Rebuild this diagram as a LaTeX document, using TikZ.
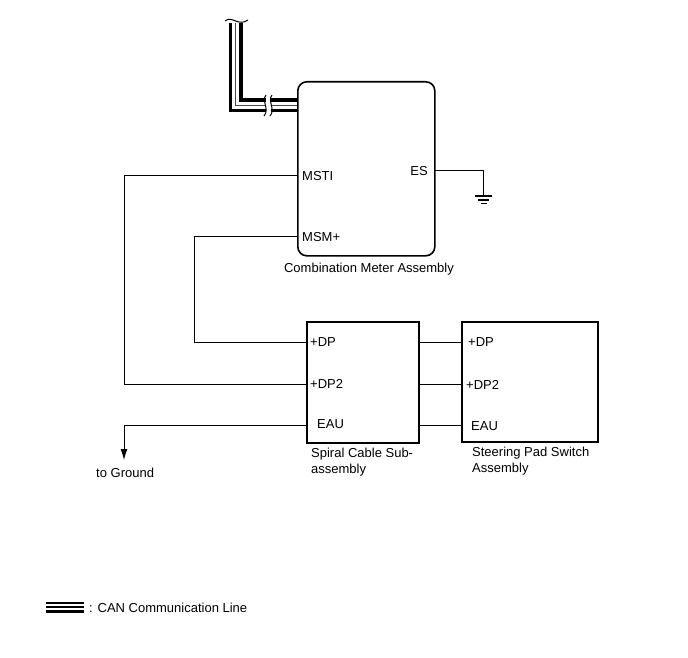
\documentclass[tikz,border=0pt]{standalone}
\usepackage{fontspec}
\setmainfont{Liberation Sans}
\usetikzlibrary{calc,arrows.meta}

\tikzset{
    unit/.style={draw, fill=white, line width=1.6pt, inner sep=0pt, anchor=north west},
    pin/.style={inner sep=0pt, font=\fontsize{13}{15}\selectfont},
    lbl/.style={inner sep=0pt, align=left, font=\fontsize{13}{16}\selectfont},
    wire/.style={line width=1pt},
}

\begin{document}
\begin{tikzpicture}[x=1pt,y=-1pt]
    \useasboundingbox (0,0) rectangle (688,658);

    % CAN line
    \coordinate (canend) at (235.5,23);
    \coordinate (cancorner) at (235.5,105.5);
    \coordinate (canin) at (300,105.5);
    \draw[line width=14pt] (canend) -- (cancorner) -- (canin);
    \draw[line width=7pt, white] ($(canend)+(0,-1)$) -- (cancorner) -- ($(canin)+(1,0)$);
    \draw[line width=1.3pt, black!70] (canend) -- (cancorner) -- (canin);
    \fill[white] (226,13) rectangle (248,22);
    \draw[line width=1pt] (225,21) .. controls (232,15) and (238,27) .. (248,20);
    \fill[white] (266,96) rectangle (271,115);
    \draw[line width=1pt] (266,95) .. controls (261,101) and (270,109) .. (264,116);
    \draw[line width=1pt] (272,95) .. controls (267,101) and (276,109) .. (270,116);

    % units
    \node[unit, rounded corners=9pt, minimum width=137pt, minimum height=174pt] (meter) at (297,81) {};
    \node[unit, minimum width=112pt, minimum height=121pt] (spiral) at (306,321) {};
    \node[unit, minimum width=136pt, minimum height=120pt] (pad) at (461,321) {};

    \node[lbl, anchor=center] (meterlbl) at (369,269) {Combination Meter Assembly};
    \node[lbl, anchor=north west] (spirallbl) at (311,448) {Spiral Cable Sub-\\assembly};
    \node[lbl, anchor=north west] (padlbl) at (472,447) {Steering Pad Switch\\Assembly};

    % pins
    \coordinate (msti) at (297,175);
    \coordinate (msm) at (297,236);
    \coordinate (es) at (434,170);
    \coordinate (sdpin) at (306,342);
    \coordinate (sdp2in) at (306,384);
    \coordinate (seauin) at (306,425);
    \foreach \y/\n in {342/dp,384/dp2,425/eau} {
        \coordinate (s\n out) at (418,\y);
        \coordinate (p\n in) at (461,\y);
    }

    \node[pin, anchor=west] at ($(msti)+(5,1)$) {MSTI};
    \node[pin, anchor=west] at ($(msm)+(5,1)$) {MSM+};
    \node[pin, anchor=east] at ($(es)+(-6,1)$) {ES};
    \node[pin, anchor=west] at ($(sdpin)+(4,0)$) {+DP};
    \node[pin, anchor=west] at ($(sdp2in)+(4,0)$) {+DP2};
    \node[pin, anchor=west] at ($(seauin)+(11,-1)$) {EAU};
    \node[pin, anchor=west] at ($(pdpin)+(7,0)$) {+DP};
    \node[pin, anchor=west] at ($(pdp2in)+(5,1)$) {+DP2};
    \node[pin, anchor=west] at ($(peauin)+(10,1)$) {EAU};

    % wires
    \coordinate (c1) at (124,384);
    \coordinate (c2) at (194,342);
    \coordinate (c3) at (124,425);
    \coordinate (gndend) at (124,460);
    \coordinate (gnd) at (483,196);

    \draw[wire] (msti) -| (c1) -- (sdp2in);
    \draw[wire] (msm) -| (c2) -- (sdpin);
    \draw[wire, -{Latex[length=11pt,width=7pt]}] (seauin) -- (c3) -- (gndend);
    \foreach \n in {dp,dp2,eau} {
        \draw[wire] (s\n out) -- (p\n in);
    }
    \draw[wire] (es) -| (gnd);
    \draw[line width=1.2pt] ($(gnd)+(-8,0)$) -- ($(gnd)+(9,0)$);
    \draw[line width=1.2pt] ($(gnd)+(-5,4)$) -- ($(gnd)+(6,4)$);
    \draw[line width=1.2pt] ($(gnd)+(-2.5,7.5)$) -- ($(gnd)+(3.5,7.5)$);

    \node[lbl, anchor=west] (toground) at (96,473) {to Ground};

    % legend
    \coordinate (legl) at (46,607);
    \coordinate (legr) at (84,607);
    \draw[line width=11pt] (legl) -- (legr);
    \draw[line width=5.5pt, white] (legl) -- (legr);
    \draw[line width=1.3pt] (legl) -- (legr);
    \node[lbl, anchor=west] (leglbl) at (89,608) {: CAN Communication Line};

\end{tikzpicture}
\end{document}
